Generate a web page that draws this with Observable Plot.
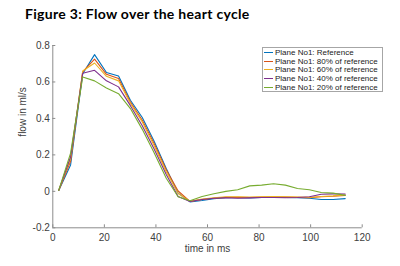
<!DOCTYPE html>
<html>
<head>
<meta charset="utf-8">
<script src="https://cdn.jsdelivr.net/npm/d3@7"></script>
<script src="https://cdn.jsdelivr.net/npm/@observablehq/plot@0.6"></script>
<style>
  html, body { margin: 0; padding: 0; background: #fff; }
  #wrap { position: relative; width: 400px; height: 266px; overflow: hidden; }
  #title { position: absolute; left: 25px; top: 5px; font-family: Lato, sans-serif; font-weight: bold; font-size: 14px; letter-spacing: 0.3px; color: #000; white-space: nowrap; }
  #chart { position: absolute; left: 0; top: 30px; }
  #legend { position: absolute; left: 262px; top: 47px; width: 121px; height: 45px; box-sizing: border-box; border: 1px solid #a6a6a6; background: #fff; padding-top: 0.5px; }
  .row { height: 8.6px; display: flex; align-items: center; font-family: "Liberation Sans", Arial, sans-serif; font-size: 8px; color: #222; white-space: nowrap; }
  .sw { width: 9px; height: 1px; margin-left: 1px; margin-right: 2px; }
</style>
</head>
<body>
<div id="wrap">
  <div id="title">Figure 3: Flow over the heart cycle</div>
  <div id="chart"></div>
  <div id="legend"></div>
</div>
<script>
const seriesNames = ["Plane No1: Reference", "Plane No1: 80% of reference", "Plane No1: 60% of reference", "Plane No1: 40% of reference", "Plane No1: 20% of reference"];
const seriesColors = ["#0072BD", "#D95319", "#EDB120", "#7E2F8E", "#77AC30"];
const time = [2.3, 6.9, 11.6, 16.2, 20.8, 25.5, 30.1, 34.7, 39.3, 44.0, 48.6, 53.2, 57.9, 62.5, 67.1, 71.7, 76.4, 81.0, 85.6, 90.2, 94.9, 99.5, 104.1, 108.7, 113.4];
const reference = [0.005, 0.145, 0.645, 0.750, 0.652, 0.633, 0.500, 0.405, 0.275, 0.125, -0.010, -0.058, -0.050, -0.040, -0.035, -0.035, -0.036, -0.034, -0.033, -0.034, -0.035, -0.038, -0.045, -0.045, -0.040];
const pct80 = [0.005, 0.165, 0.655, 0.725, 0.642, 0.619, 0.490, 0.390, 0.262, 0.118, 0.002, -0.055, -0.045, -0.038, -0.033, -0.033, -0.034, -0.032, -0.031, -0.032, -0.033, -0.035, -0.030, -0.027, -0.022];
const pct60 = [0.005, 0.180, 0.660, 0.704, 0.631, 0.606, 0.482, 0.380, 0.250, 0.108, -0.012, -0.055, -0.042, -0.035, -0.030, -0.030, -0.031, -0.030, -0.029, -0.030, -0.031, -0.033, -0.028, -0.025, -0.020];
const pct40 = [0.005, 0.190, 0.648, 0.664, 0.606, 0.573, 0.470, 0.360, 0.232, 0.092, -0.028, -0.056, -0.045, -0.038, -0.035, -0.038, -0.036, -0.034, -0.034, -0.035, -0.034, -0.030, -0.016, -0.014, -0.015];
const pct20 = [0.005, 0.210, 0.627, 0.606, 0.567, 0.536, 0.454, 0.340, 0.212, 0.072, -0.030, -0.052, -0.028, -0.013, 0.000, 0.009, 0.030, 0.034, 0.042, 0.034, 0.016, 0.009, -0.006, -0.010, -0.022];
const xTicks = [0, 20, 40, 60, 80, 100, 120];
const yTicks = [-0.2, 0, 0.2, 0.4, 0.6, 0.8];
const xLabel = "time in ms";
const yLabel = "flow in ml/s";

const allSeries = [reference, pct80, pct60, pct40, pct20];
const rows = [];
allSeries.forEach((vals, si) => vals.forEach((v, i) => rows.push({series: seriesNames[si], t: time[i], v})));

const axisColor = "#8c8c8c";
const textColor = "#404040";

const chart = Plot.plot({
  width: 400,
  height: 236,
  marginLeft: 52.3,
  marginRight: 38.3,
  marginTop: 15,
  marginBottom: 38.7,
  style: {fontFamily: "'Liberation Sans', Arial, sans-serif", fontSize: "10px", color: textColor, background: "transparent"},
  x: {domain: [0, 120]},
  y: {domain: [-0.2, 0.8]},
  color: {domain: seriesNames, range: seriesColors},
  marks: [
    Plot.ruleX([0], {stroke: axisColor}),
    Plot.ruleY([-0.2], {stroke: axisColor}),
    Plot.axisX({ticks: xTicks, tickSize: -3, tickPadding: 9, stroke: axisColor, fill: textColor, label: null, tickFormat: d => String(d)}),
    Plot.axisY({ticks: yTicks, tickSize: -3, tickPadding: 6, stroke: axisColor, fill: textColor, label: null, tickFormat: d => String(+d.toFixed(1))}),
    Plot.line(rows, {x: "t", y: "v", z: "series", stroke: "series", strokeWidth: 1.1}),
    Plot.text([xLabel], {frameAnchor: "bottom", dy: 24, fill: textColor, fontSize: 10}),
    Plot.text([yLabel], {frameAnchor: "left", dx: -30, rotate: -90, fill: textColor, fontSize: 10})
  ]
});
document.getElementById("chart").appendChild(chart);

const legend = document.getElementById("legend");
seriesNames.forEach((name, i) => {
  const row = document.createElement("div");
  row.className = "row";
  const sw = document.createElement("div");
  sw.className = "sw";
  sw.style.background = seriesColors[i];
  const label = document.createElement("span");
  label.textContent = name;
  row.appendChild(sw);
  row.appendChild(label);
  legend.appendChild(row);
});
</script>
</body>
</html>
